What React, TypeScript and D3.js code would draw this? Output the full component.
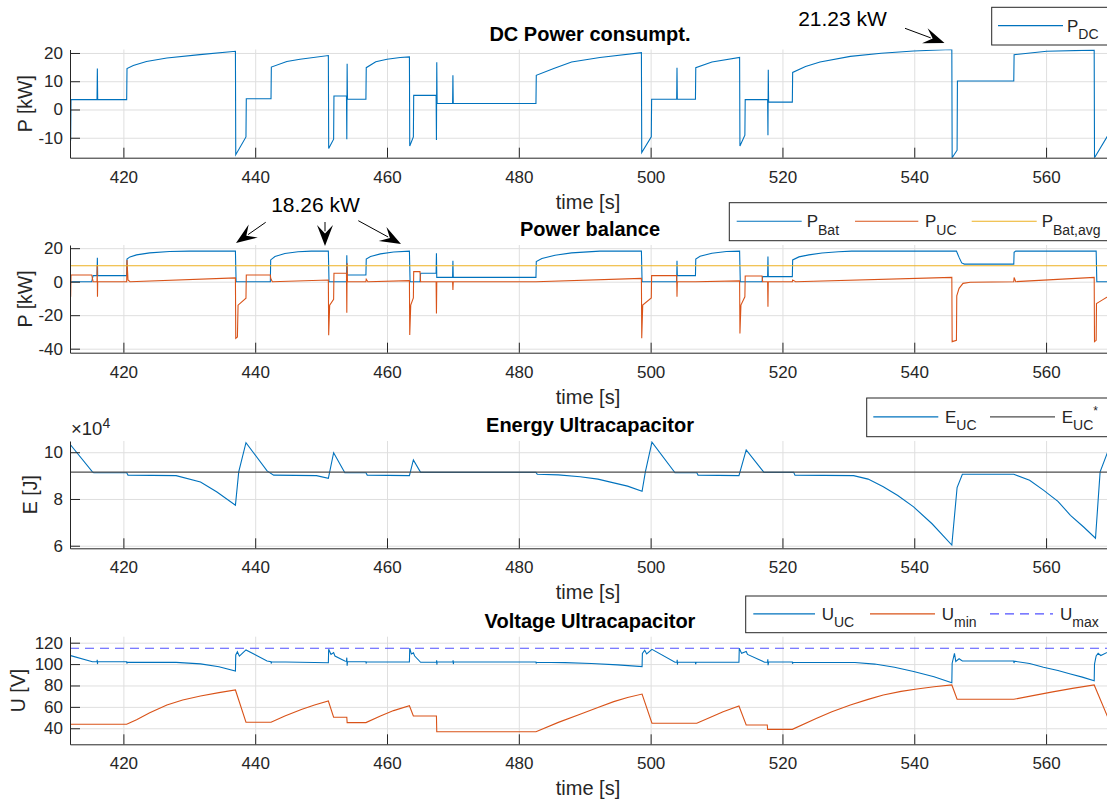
import React, { useEffect, useRef } from 'react';
import * as d3 from 'd3';

type Pt = [number, number];

// time axis
const timeTicks = [420, 440, 460, 480, 500, 520, 540, 560];
const timeRange: Pt = [411.9, 569.7];

// DC power consumption [kW]
const pDC: Pt[] = [
  [412, -11], [412.05, 3.5], [416.0, 3.5], [416.05, 14.5], [416.1, 3.5], [420.5, 3.5],
  [420.55, 14.5], [421.5, 15.6], [423.5, 17.0], [426.6, 18.2], [431.6, 19.4], [437.0, 20.6],
  [437.05, -16.0], [438.6, -9.7], [438.65, 3.8], [442.4, 3.8], [442.45, 15.0], [444.8, 17.0],
  [446.8, 17.8], [451.1, 19.1], [451.15, -13.8], [451.9, -10.5], [451.95, 4.8], [453.85, 4.8],
  [453.9, -10.5], [453.95, 16.2], [454.0, 3.6], [456.8, 3.6], [456.85, 14.8], [458.3, 16.9],
  [460, 17.8], [462, 18.4], [463.4, 18.6], [463.45, -12.9], [464.0, -9.7], [464.05, 5.0],
  [467.45, 5.0], [467.5, -10.8], [467.55, 16.7], [467.6, 2.1], [469.95, 2.1], [470.0, 12.1],
  [470.05, 2.1], [482.6, 2.1], [482.65, 12.1], [485.3, 14.5], [488.0, 16.8], [492.3, 18.4],
  [498.6, 20.1], [498.65, -15.2], [500.1, -9.7], [500.15, 3.6], [503.95, 3.6], [504.0, 14.8],
  [504.05, 3.6], [506.8, 3.6], [506.85, 14.8], [509.3, 16.8], [513.5, 18.4], [513.55, -12.9],
  [514.3, -9.1], [514.35, 3.5], [517.75, 3.5], [517.8, -9.1], [517.85, 14.1], [517.9, 2.6],
  [521.5, 2.6], [521.55, 13.1], [523.5, 15.2], [525.7, 16.8], [530.3, 18.8], [535, 19.9],
  [539.9, 20.7], [545.7, 21.23], [545.75, -17.06], [546.5, -14.4], [546.55, 10.1], [555.1, 10.1],
  [555.15, 19.4], [560.1, 20.6], [567.3, 21.0], [567.35, -17.06], [569.8, -7.5],
];

// battery power [kW]
const pBat: Pt[] = [
  [412, 0], [415.2, 0], [415.4, 3.6], [416.0, 3.6], [416.05, 14.3], [416.1, 3.6], [420.5, 3.6],
  [420.55, 13.5], [421.0, 14.8], [422.0, 16.0], [424.0, 17.2], [427.0, 18.0], [430.0, 18.26],
  [437.0, 18.26], [437.1, 0], [442.3, 0], [442.35, 13.0], [443, 15.0], [444.5, 16.8],
  [446.5, 17.9], [448.5, 18.26], [451.1, 18.26], [451.2, 0], [453.85, 0], [453.9, 15.8],
  [453.95, 4.0], [456.8, 4.0], [456.85, 13.5], [457.5, 15.0], [459, 16.6], [461, 17.7],
  [463.4, 18.26], [463.5, 0], [465.0, 0], [465.1, 5.0], [467.45, 5.0], [467.5, 17.0],
  [467.55, 2.6], [469.95, 2.6], [470.0, 12.5], [470.05, 2.6], [482.6, 2.6], [482.65, 12.0],
  [483.5, 13.8], [485.5, 15.8], [488, 17.2], [492.3, 18.26], [498.6, 18.26], [498.7, 0],
  [503.95, 0], [504.0, 12.5], [504.05, 3.6], [506.8, 3.6], [506.85, 13.5], [507.5, 15.2],
  [509.3, 17.0], [511.5, 18.0], [513.5, 18.26], [513.6, 0], [516.9, 0], [517.0, 3.0],
  [517.75, 3.0], [517.8, 15.0], [517.85, 3.0], [521.5, 3.0], [521.55, 13.0], [522.5, 14.8],
  [524, 16.0], [526, 17.1], [528.5, 17.9], [530.5, 18.26], [546.4, 18.26], [546.8, 14.5],
  [547.2, 11.2], [547.6, 10.5], [555.1, 10.5], [555.15, 17.5], [555.4, 18.26], [567.6, 18.26],
  [567.7, 0], [569.8, 0],
];

// ultracapacitor power [kW]
const pUC: Pt[] = [
  [412, -9], [412.05, 4.0], [415.2, 4.0], [415.4, 0], [416.0, 0], [416.03, 10], [416.07, -9],
  [416.1, 0], [420.5, 0], [420.55, 13], [420.7, 1], [421, 0], [437.0, 2.3], [437.05, -33.8],
  [437.3, -33], [437.4, -14], [438.6, -9.9], [438.65, 4.0], [442.3, 4.0], [442.35, 2],
  [442.6, 0], [451.1, 1.0], [451.15, -32], [451.3, -14], [451.9, -10.5], [451.95, 5.0],
  [453.85, 5.0], [453.9, -18.5], [453.95, 11], [454.0, 0], [456.8, 0], [456.85, 1.5],
  [457.1, 0], [463.4, 0.6], [463.45, -31.8], [463.6, -14], [464.0, -9.7], [464.05, 6],
  [465.0, 6], [465.1, 0], [467.45, 0], [467.5, -19], [467.55, 0], [469.95, 0], [470.0, -5],
  [470.05, 0], [482.6, 0], [498.6, 2.0], [498.65, -33.8], [498.8, -14], [500.1, -9.7],
  [500.15, 3.6], [503.95, 3.6], [504.0, -9], [504.05, 0], [506.8, 0], [513.5, 0.5],
  [513.55, -31], [513.7, -14], [514.3, -9], [514.35, 3.4], [516.9, 3.4], [517.0, 0],
  [517.75, 0], [517.8, -15], [517.85, 0], [521.5, 0], [521.55, 1], [522, 0], [545.7, 2.6],
  [545.75, -35.8], [546.4, -35], [546.45, -8.5], [546.8, -4], [547.4, -1], [548.5, -0.3],
  [555.1, 0], [555.15, 2.5], [555.4, 0], [567.3, 2.6], [567.35, -35.8], [567.6, -35],
  [567.65, -13], [568.5, -11], [569.8, -8],
];

const pBatAvg = 9.55;

// ultracapacitor energy [x10^4 J]
const eUC: Pt[] = [
  [412, 10.31], [415.3, 9.16], [415.5, 9.12], [420.5, 9.12], [420.7, 9.02], [428, 9.0],
  [431.7, 8.73], [434.2, 8.30], [437, 7.73], [437.5, 9.16], [438.6, 10.41], [441.8, 9.2],
  [442.8, 9.02], [449.3, 9.0], [451.1, 8.88], [451.9, 9.98], [453.6, 9.12], [456.8, 9.12],
  [457.0, 9.02], [463.4, 9.0], [464.0, 9.67], [465.1, 9.14], [482.6, 9.14], [482.8, 9.06],
  [486, 9.03], [489.3, 8.95], [492, 8.85], [494.4, 8.69], [496.5, 8.55], [498.7, 8.33],
  [499.2, 9.16], [500.2, 10.43], [503.7, 9.12], [507.0, 9.12], [507.2, 9.02], [513.4, 9.0],
  [514.5, 10.1], [517.2, 9.14], [521.7, 9.14], [521.9, 9.02], [530.8, 9.0], [533, 8.85],
  [535.3, 8.52], [537.5, 8.15], [539.9, 7.66], [542.7, 6.94], [545.7, 6.03], [546.5, 8.49],
  [547.3, 9.06], [555.1, 9.06], [557.5, 8.8], [559.6, 8.38], [561.8, 7.9], [563.7, 7.30],
  [565.7, 6.8], [567.5, 6.32], [568.2, 9.16], [569.8, 10.35],
];

const eUCRef = 9.15;

// ultracapacitor voltage [V]
const uUC: Pt[] = [
  [412, 107.9], [415.3, 102.2], [416.0, 102.2], [416.03, 104], [416.07, 100], [416.1, 102.2],
  [420.5, 102.2], [420.53, 100.5], [420.6, 101.8], [428, 101.6], [431.7, 100.2], [434.5, 97.5],
  [437, 93.5], [437.05, 108.5], [437.3, 111.6], [437.6, 107.4], [438.6, 113.2], [441.8, 102.9],
  [442.4, 102.2], [442.43, 100.5], [442.5, 102.2], [451.1, 101.3], [451.15, 113.8],
  [451.5, 109], [451.9, 110.8], [452.1, 107.5], [453.6, 102.9], [453.85, 102.5], [453.9, 106],
  [453.95, 98.5], [454.0, 102.2], [456.8, 102.2], [456.83, 100.5], [456.9, 102.2],
  [463.4, 102.0], [463.45, 114.8], [463.7, 109.4], [464.0, 110.5], [464.2, 107.5],
  [465.1, 101.7], [467.5, 101.7], [467.53, 103.5], [467.57, 99.5], [467.6, 101.9],
  [470, 101.9], [470.03, 103.5], [470.07, 100], [470.1, 101.9], [482.6, 101.9],
  [482.63, 100.5], [482.7, 101.7], [487, 101.4], [491, 100.5], [495, 99.3], [498.7, 97.6],
  [498.75, 110], [499.1, 113], [499.4, 109.5], [500.2, 113.8], [503.7, 101.7], [504.0, 101.7],
  [504.03, 104], [504.07, 99.5], [504.1, 101.7], [506.8, 101.7], [506.83, 99.8],
  [506.9, 101.7], [513.4, 101.7], [513.45, 114.8], [513.8, 110], [514.5, 111.7], [514.7, 109],
  [517.3, 101.7], [517.75, 101.9], [517.78, 104.5], [517.82, 99], [517.9, 101.9],
  [521.5, 101.9], [521.53, 100.3], [521.6, 101.7], [531, 101.5], [534, 100], [537, 97],
  [539.9, 93], [543, 88.2], [545.7, 82.6], [545.75, 100.8], [546.1, 110.1], [546.3, 102.5],
  [546.8, 105], [547.3, 102.9], [555.1, 102.9], [555.13, 101], [555.2, 102.7], [557.5, 100.5],
  [559.6, 97], [561.8, 94], [563.7, 90.7], [565.5, 87.8], [567.3, 84.5], [567.35, 100],
  [567.6, 107.6], [567.9, 110.1], [568.3, 108], [569.8, 112.5],
];

// minimum voltage [V]
const uMin: Pt[] = [
  [412, 43.7], [420.5, 43.7], [422, 48], [424, 54.5], [426.6, 61.8], [429, 66.5],
  [431.7, 70.2], [434.5, 73.3], [437, 75.8], [438.6, 45.6], [442.4, 45.6], [444.5, 51.5],
  [447, 57.5], [449, 61.8], [451.1, 65.5], [451.9, 50.3], [453.9, 50.3], [453.95, 45.3],
  [456.8, 45.3], [459, 51.5], [461, 56.5], [463.4, 61.1], [464.0, 51.5], [467.5, 51.5],
  [467.55, 36.8], [482.6, 36.8], [486, 45.5], [489.3, 53.1], [492, 59.5], [494.4, 64.9],
  [496.5, 68.8], [498.7, 72], [500.2, 44.7], [507, 44.7], [509, 50], [511, 55.5],
  [513.4, 60.8], [514.5, 43.1], [517.7, 43.1], [517.75, 39], [521.5, 39], [525.2, 49.3],
  [527.5, 55.5], [530.3, 61.8], [533, 67], [535.3, 71.1], [538, 74.5], [540.4, 76.7],
  [543, 78.8], [545.7, 80.5], [546.5, 67.1], [555.1, 67.1], [558, 70.5], [561, 74],
  [564, 77.3], [567.3, 80.5], [569.8, 44],
];

const uMax = 114.8;

// y tick values
const pDcTicks = [-10, 0, 10, 20];
const pBalTicks = [-40, -20, 0, 20];
const eTicks = [6, 8, 10];
const uTicks = [40, 60, 80, 100, 120];

const FONT = '"Liberation Sans", Arial, Helvetica, sans-serif';
const INK = '#262626';
const BLUE = '#0072BD';
const ORANGE = '#D95319';
const YELLOW = '#EDB120';
const GRID = '#dfdfdf';
const X0 = 70;
const X1 = 1110;

const App = () => {
  const svgRef = useRef<SVGSVGElement>(null);

  useEffect(() => {
    const svg = d3.select(svgRef.current);
    svg.selectAll('*').remove();

    const x = d3.scaleLinear().domain(timeRange).range([X0, X1]);
    const constLine = (v: number): Pt[] => [[timeRange[0], v], [timeRange[1], v]];

    const panels = [
      {
        top: 49.5, bottom: 157.7, dom: [-17.06, 21.23], ticks: pDcTicks,
        title: 'DC Power consumpt.', ylabel: 'P [kW]', ylx: 25,
        series: [{ data: pDC, color: BLUE, dash: '' }],
      },
      {
        top: 245, bottom: 352.7, dom: [-42.4, 21.9], ticks: pBalTicks,
        title: 'Power balance', ylabel: 'P [kW]', ylx: 25,
        series: [
          { data: pBat, color: BLUE, dash: '' },
          { data: pUC, color: ORANGE, dash: '' },
          { data: constLine(pBatAvg), color: YELLOW, dash: '' },
        ],
      },
      {
        top: 441, bottom: 548.3, dom: [5.89, 10.48], ticks: eTicks,
        title: 'Energy Ultracapacitor', ylabel: 'E [J]', ylx: 30,
        series: [
          { data: eUC, color: BLUE, dash: '' },
          { data: constLine(eUCRef), color: '#4d4d4d', dash: '' },
        ],
      },
      {
        top: 636.7, bottom: 744.3, dom: [25, 125.6], ticks: uTicks,
        title: 'Voltage Ultracapacitor', ylabel: 'U [V]', ylx: 18,
        series: [
          { data: uUC, color: BLUE, dash: '' },
          { data: uMin, color: ORANGE, dash: '' },
          { data: constLine(uMax), color: '#5050ff', dash: '9,6' },
        ],
      },
    ];

    panels.forEach((p, i) => {
      const g = svg.append('g');
      const y = d3.scaleLinear().domain(p.dom).range([p.bottom, p.top]);
      const h = p.bottom - p.top;

      // grid
      const gx = g.append('g')
        .attr('transform', `translate(0,${p.bottom})`)
        .call(d3.axisBottom(x).tickValues(timeTicks).tickSize(-h).tickFormat(() => ''));
      const gy = g.append('g')
        .attr('transform', `translate(${X0},0)`)
        .call(d3.axisLeft(y).tickValues(p.ticks).tickSize(-(X1 - X0)).tickFormat(() => ''));
      [gx, gy].forEach(s => {
        s.select('.domain').remove();
        s.selectAll('line').attr('stroke', GRID);
      });

      // data
      const clipId = `clip${i}`;
      g.append('clipPath').attr('id', clipId)
        .append('rect').attr('x', X0).attr('y', p.top).attr('width', X1 - X0).attr('height', h);
      const line = d3.line<Pt>().x(d => x(d[0])).y(d => y(d[1]));
      p.series.forEach(s => {
        g.append('path')
          .attr('clip-path', `url(#${clipId})`)
          .attr('d', line(s.data))
          .attr('fill', 'none')
          .attr('stroke', s.color)
          .attr('stroke-width', 1.1)
          .attr('stroke-dasharray', s.dash || null);
      });

      // axes
      const ax = g.append('g')
        .attr('transform', `translate(0,${p.bottom})`)
        .call(d3.axisBottom(x).tickValues(timeTicks).tickSizeInner(-10).tickSizeOuter(0).tickPadding(13));
      const ay = g.append('g')
        .attr('transform', `translate(${X0},0)`)
        .call(d3.axisLeft(y).tickValues(p.ticks).tickFormat(d => String(d))
          .tickSizeInner(-10).tickSizeOuter(0).tickPadding(7));
      [ax, ay].forEach(s => {
        s.attr('font-family', FONT).attr('font-size', 17);
        s.selectAll('line').attr('stroke', INK);
        s.select('.domain').attr('stroke', INK);
        s.selectAll('text').attr('fill', INK);
      });

      g.append('text')
        .attr('x', (X0 + X1) / 2).attr('y', p.top - 9)
        .attr('text-anchor', 'middle')
        .attr('font-family', FONT).attr('font-size', 20).attr('font-weight', 'bold')
        .attr('fill', '#000')
        .text(p.title);
      g.append('text')
        .attr('x', 588).attr('y', p.bottom + 51)
        .attr('text-anchor', 'middle')
        .attr('font-family', FONT).attr('font-size', 20)
        .attr('fill', INK)
        .text('time [s]');
      g.append('text')
        .attr('transform', `translate(${p.ylx},${(p.top + p.bottom) / 2}) rotate(-90)`)
        .attr('dy', '0.35em')
        .attr('text-anchor', 'middle')
        .attr('font-family', FONT).attr('font-size', 19.5)
        .attr('fill', INK)
        .text(p.ylabel);
    });

    // exponent label of energy axis
    const ex = svg.append('text')
      .attr('x', 71).attr('y', 435)
      .attr('font-family', FONT).attr('font-size', 18.5).attr('fill', INK);
    ex.append('tspan').text('\u00d710');
    ex.append('tspan').attr('dy', -7).attr('font-size', 14).text('4');

    // legends
    const legend = (lx: number, top: number, bottom: number, items: any[]) => {
      const cy = (top + bottom) / 2;
      const lg = svg.append('g');
      lg.append('rect')
        .attr('x', lx).attr('y', top).attr('width', 1120 - lx).attr('height', bottom - top)
        .attr('fill', '#fff').attr('stroke', INK).attr('stroke-width', 1);
      items.forEach(it => {
        lg.append('line')
          .attr('x1', it.x1).attr('x2', it.x2).attr('y1', cy - 0.5).attr('y2', cy - 0.5)
          .attr('stroke', it.color).attr('stroke-width', 1.1)
          .attr('stroke-dasharray', it.dash || null);
        const t = lg.append('text')
          .attr('x', it.tx).attr('y', cy + 5.5)
          .attr('font-family', FONT).attr('font-size', 17).attr('fill', INK);
        t.append('tspan').text(it.main);
        t.append('tspan').attr('dy', 7.5).attr('font-size', 14).text(it.sub);
        if (it.sup) t.append('tspan').attr('dy', -15).attr('font-size', 12).text(it.sup);
      });
    };
    legend(991.7, 7.3, 45, [
      { x1: 998, x2: 1063, tx: 1067, color: BLUE, main: 'P', sub: 'DC' },
    ]);
    legend(729.3, 202.7, 240.7, [
      { x1: 736.7, x2: 801.7, tx: 806.7, color: BLUE, main: 'P', sub: 'Bat' },
      { x1: 855, x2: 918.3, tx: 925, color: ORANGE, main: 'P', sub: 'UC' },
      { x1: 971.7, x2: 1036.7, tx: 1041.7, color: YELLOW, main: 'P', sub: 'Bat,avg' },
    ]);
    legend(866.7, 398, 436.7, [
      { x1: 873.3, x2: 938.3, tx: 945, color: BLUE, main: 'E', sub: 'UC' },
      { x1: 990, x2: 1055, tx: 1061.7, color: '#4d4d4d', main: 'E', sub: 'UC', sup: '*' },
    ]);
    legend(745.7, 596, 632.7, [
      { x1: 753.3, x2: 815, tx: 821.7, color: BLUE, main: 'U', sub: 'UC' },
      { x1: 870, x2: 935, tx: 941.7, color: ORANGE, main: 'U', sub: 'min' },
      { x1: 990, x2: 1053, tx: 1060, color: '#5050ff', dash: '9,6', main: 'U', sub: 'max' },
    ]);

    // annotations
    const arrow = (x1: number, y1: number, x2: number, y2: number) => {
      const L = 21, W = 16;
      const a = Math.atan2(y2 - y1, x2 - x1);
      const ca = Math.cos(a), sa = Math.sin(a);
      svg.append('line')
        .attr('x1', x1).attr('y1', y1)
        .attr('x2', x2 - ca * L * 0.7).attr('y2', y2 - sa * L * 0.7)
        .attr('stroke', '#000').attr('stroke-width', 1);
      const pts: Pt[] = [[0, 0], [-L, -W / 2], [-L * 0.6, 0], [-L, W / 2]];
      const rot = pts.map(([px, py]) => [x2 + px * ca - py * sa, y2 + px * sa + py * ca]);
      svg.append('path')
        .attr('d', 'M' + rot.map(q => q.join(',')).join('L') + 'Z')
        .attr('fill', '#000');
    };
    const note = (tx: number, ty: number, label: string) => {
      svg.append('text')
        .attr('x', tx).attr('y', ty).attr('text-anchor', 'middle')
        .attr('font-family', FONT).attr('font-size', 21).attr('fill', '#000')
        .text(label);
    };
    note(842.5, 26, '21.23 kW');
    arrow(905, 28.3, 944.5, 43);
    note(315.5, 211.7, '18.26 kW');
    arrow(265.7, 222.3, 236, 243);
    arrow(325, 222, 325, 246);
    arrow(358.3, 220.7, 401, 244);
  }, []);

  return (
    <svg
      ref={svgRef}
      width={1107}
      height={800}
      style={{ position: 'absolute', left: 0, top: 0, background: '#fff' }}
    />
  );
};

export default App;
